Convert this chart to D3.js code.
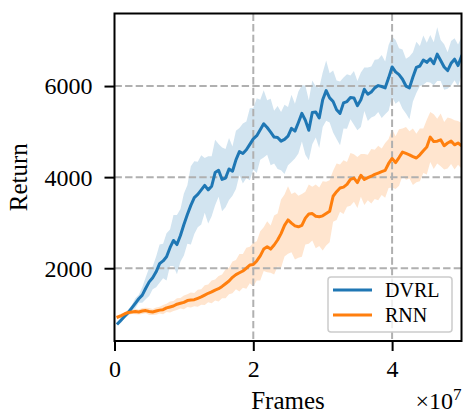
<!DOCTYPE html>
<html>
<head>
<meta charset="utf-8">
<script src="https://cdn.jsdelivr.net/npm/d3@7"></script>
<style>
  html, body { margin: 0; padding: 0; background: #fff; }
  svg { display: block; }
  text { font-family: "Liberation Serif", "DejaVu Serif", serif; fill: #000; }
</style>
</head>
<body>
<svg id="chart" width="463" height="418"></svg>
<script>
// Training frames, in units of 1e7 (shared by both runs)
const frames = [
  0.05, 0.10, 0.15, 0.20, 0.25, 0.30, 0.35, 0.40, 0.45, 0.50,
  0.55, 0.60, 0.65, 0.70, 0.75, 0.80, 0.85, 0.90, 0.95, 1.00,
  1.05, 1.10, 1.15, 1.20, 1.25, 1.30, 1.35, 1.40, 1.45, 1.50,
  1.55, 1.60, 1.65, 1.70, 1.75, 1.80, 1.85, 1.90, 1.95, 2.00,
  2.05, 2.10, 2.15, 2.20, 2.25, 2.30, 2.35, 2.40, 2.45, 2.50,
  2.55, 2.60, 2.65, 2.70, 2.75, 2.80, 2.85, 2.90, 2.95, 3.00,
  3.05, 3.10, 3.15, 3.20, 3.25, 3.30, 3.35, 3.40, 3.45, 3.50,
  3.55, 3.60, 3.65, 3.70, 3.75, 3.80, 3.85, 3.90, 3.95, 4.00,
  4.05, 4.10, 4.15, 4.20, 4.25, 4.30, 4.35, 4.40, 4.45, 4.50,
  4.55, 4.60, 4.65, 4.70, 4.75, 4.80, 4.85, 4.90, 4.95, 5.00
];

// DVRL mean return and spread across seeds
const dvrlReturn = [
  790, 870, 950, 1030, 1130, 1230, 1330, 1410, 1560, 1700,
  1790, 1920, 2100, 2160, 2250, 2450, 2610, 2520, 2720, 2960,
  3180, 3380, 3550, 3620, 3720, 3820, 3720, 3800, 4100, 4150,
  3950, 3980, 4180, 4130, 4380, 4560, 4520, 4600, 4720, 4840,
  4910, 5040, 5170, 5090, 4990, 4880, 4870, 4790, 4830, 4900,
  5070, 5010, 5200, 5400, 5250, 5030, 5420, 5430, 5300, 5700,
  5900, 5740, 5660, 5480, 5400, 5630, 5660, 5750, 5740, 5570,
  5700, 5930, 5820, 5870, 5960, 6010, 5990, 5960, 6180, 6420,
  6310, 6250, 6150, 6000, 5960, 6200, 6410, 6440, 6570, 6520,
  6600, 6490, 6700, 6560, 6420, 6340, 6500, 6590, 6450, 6650
];
const dvrlSpread = [
  40, 60, 50, 70, 60, 110, 90, 170, 240, 310,
  250, 340, 420, 380, 520, 400, 560, 650, 580, 680,
  640, 860, 800, 720, 760, 600, 740, 660, 720, 580,
  700, 640, 680, 540, 640, 520, 660, 620, 790, 680,
  820, 660, 740, 600, 730, 580, 690, 640, 760, 640,
  740, 600, 680, 620, 760, 660, 700, 560, 660, 600,
  660, 540, 680, 640, 700, 560, 600, 480, 590, 540,
  600, 480, 590, 560, 620, 580, 690, 580, 720, 660,
  700, 580, 650, 600, 690, 540, 560, 440, 540, 430,
  520, 470, 590, 450, 500, 400, 490, 460, 460, 420
];

// RNN mean return and spread across seeds
const rnnReturn = [
  930, 960, 1000, 1030, 1040, 1050, 1040, 1060, 1070, 1050,
  1040, 1060, 1080, 1090, 1130, 1150, 1170, 1210, 1230, 1250,
  1290, 1300, 1310, 1340, 1370, 1410, 1450, 1480, 1520, 1550,
  1600, 1660, 1720, 1800, 1860, 1900, 1940, 2000, 2070, 2080,
  2160, 2270, 2420, 2470, 2420, 2510, 2620, 2760, 2940, 3060,
  2990, 2930, 2910, 2940, 3100, 3190, 3200, 3140, 3130, 3150,
  3200, 3250, 3580, 3680, 3760, 3780, 3840, 3950, 3980, 3880,
  4040, 3950, 3990, 4020, 4060, 4090, 4120, 4150, 4300, 4410,
  4320, 4430, 4550, 4520, 4490, 4450, 4420, 4490, 4580, 4660,
  4880, 4780, 4790, 4820, 4690, 4750, 4790, 4710, 4750, 4690
];
const rnnSpread = [
  40, 45, 40, 55, 45, 60, 55, 65, 60, 75,
  65, 80, 75, 100, 90, 120, 110, 130, 115, 150,
  140, 165, 145, 185, 170, 215, 195, 250, 230, 280,
  260, 320, 290, 350, 320, 410, 370, 450, 400, 480,
  430, 540, 480, 560, 520, 650, 580, 750, 680, 740,
  640, 740, 680, 690, 580, 650, 590, 700, 640, 760,
  700, 680, 560, 620, 520, 590, 490, 580, 520, 560,
  470, 560, 500, 600, 540, 600, 510, 600, 540, 640,
  580, 620, 520, 580, 520, 620, 530, 580, 490, 600,
  550, 600, 490, 580, 520, 560, 500, 540, 480, 500
];

const seriesNames = ["DVRL", "RNN"];
const seriesColors = ["#1f77b4", "#ff7f0e"];

// Axis settings
const xTicks = [0, 2, 4];
const yTicks = [2000, 4000, 6000];
const xDomain = [0, 5];
const yDomain = [402, 7593];

const svg = d3.select("#chart");
const W = 463, H = 418;
const plot = { left: 114.5, right: 461.5, top: 13.5, bottom: 341 };

const x = d3.scaleLinear().domain(xDomain).range([plot.left, plot.right]);
const y = d3.scaleLinear().domain(yDomain).range([plot.bottom, plot.top]);

svg.append("rect").attr("width", W).attr("height", H).attr("fill", "#fff");

const series = [
  { name: seriesNames[0], color: seriesColors[0], mean: dvrlReturn, spread: dvrlSpread },
  { name: seriesNames[1], color: seriesColors[1], mean: rnnReturn, spread: rnnSpread }
];

svg.append("defs").append("clipPath").attr("id", "plotclip")
  .append("rect")
  .attr("x", plot.left).attr("y", plot.top)
  .attr("width", plot.right - plot.left).attr("height", plot.bottom - plot.top);

const body = svg.append("g").attr("clip-path", "url(#plotclip)");

// Shaded spread bands
const area = d3.area()
  .x((d, i) => x(frames[i]))
  .y0(d => y(d.lo))
  .y1(d => y(d.hi));

series.forEach(s => {
  const pts = s.mean.map((m, i) => ({ lo: m - s.spread[i], hi: m + s.spread[i] }));
  body.append("path")
    .attr("d", area(pts))
    .attr("fill", s.color)
    .attr("fill-opacity", 0.2)
    .attr("stroke", "none");
});

// Dashed grid
const gridStyle = g => g.attr("stroke", "#b0b0b0").attr("stroke-width", 2)
  .attr("stroke-dasharray", "7.4,3.2").attr("fill", "none");
const grid = body.append("g");
xTicks.filter(t => t > xDomain[0]).forEach(t => {
  grid.append("line")
    .attr("x1", x(t)).attr("x2", x(t))
    .attr("y1", plot.top).attr("y2", plot.bottom)
    .call(gridStyle);
});
yTicks.forEach(t => {
  grid.append("line")
    .attr("x1", plot.left).attr("x2", plot.right)
    .attr("y1", y(t)).attr("y2", y(t))
    .call(gridStyle);
});

// Mean lines
const line = d3.line()
  .x((d, i) => x(frames[i]))
  .y(d => y(d));

series.forEach(s => {
  body.append("path")
    .attr("d", line(s.mean))
    .attr("fill", "none")
    .attr("stroke", s.color)
    .attr("stroke-width", 3)
    .attr("stroke-linejoin", "round")
    .attr("stroke-linecap", "square");
});

// Axes
const yAxis = d3.axisLeft(y).tickValues(yTicks).tickSize(10).tickPadding(12)
  .tickFormat(d3.format("d"));
const xAxis = d3.axisBottom(x).tickValues(xTicks).tickSize(10).tickPadding(9)
  .tickFormat(d3.format("d"));

const gy = svg.append("g").attr("transform", `translate(${plot.left},0)`).call(yAxis);
const gx = svg.append("g").attr("transform", `translate(0,${plot.bottom})`).call(xAxis);
[gx, gy].forEach(g => {
  g.select(".domain").remove();
  g.selectAll(".tick line").attr("stroke", "#000").attr("stroke-width", 2);
  g.selectAll(".tick text")
    .attr("font-family", "'Liberation Serif', 'DejaVu Serif', serif")
    .attr("font-size", 24).attr("fill", "#000");
});
gy.selectAll(".tick text").attr("dy", "0.33em");

// Frame around the plot area
svg.append("rect")
  .attr("x", plot.left).attr("y", plot.top)
  .attr("width", plot.right - plot.left).attr("height", plot.bottom - plot.top)
  .attr("fill", "none").attr("stroke", "#000").attr("stroke-width", 2);

// Axis titles
svg.append("text")
  .attr("x", (plot.left + plot.right) / 2).attr("y", 409)
  .attr("text-anchor", "middle").attr("font-size", 25)
  .text("Frames");

svg.append("text")
  .attr("transform", `translate(27,${(plot.top + plot.bottom) / 2}) rotate(-90)`)
  .attr("text-anchor", "middle").attr("font-size", 25)
  .text("Return");

// Scale multiplier for the frame axis
const off = svg.append("text")
  .attr("x", plot.right).attr("y", 409)
  .attr("text-anchor", "end").attr("font-size", 24);
off.append("tspan").text("×10");
off.append("tspan").attr("dy", -9).attr("font-size", 17).text("7");

// Legend
const lg = svg.append("g");
lg.append("rect")
  .attr("x", 328).attr("y", 277).attr("width", 124).attr("height", 55)
  .attr("rx", 3).attr("ry", 3)
  .attr("fill", "#fff").attr("fill-opacity", 0.8)
  .attr("stroke", "#cccccc").attr("stroke-width", 1.5);
series.forEach((s, i) => {
  const cy = 290 + i * 25;
  lg.append("line")
    .attr("x1", 333).attr("x2", 372).attr("y1", cy).attr("y2", cy)
    .attr("stroke", s.color).attr("stroke-width", 3);
  lg.append("text")
    .attr("x", 385).attr("y", cy + 7)
    .attr("font-size", 20)
    .text(s.name);
});
</script>
</body>
</html>
